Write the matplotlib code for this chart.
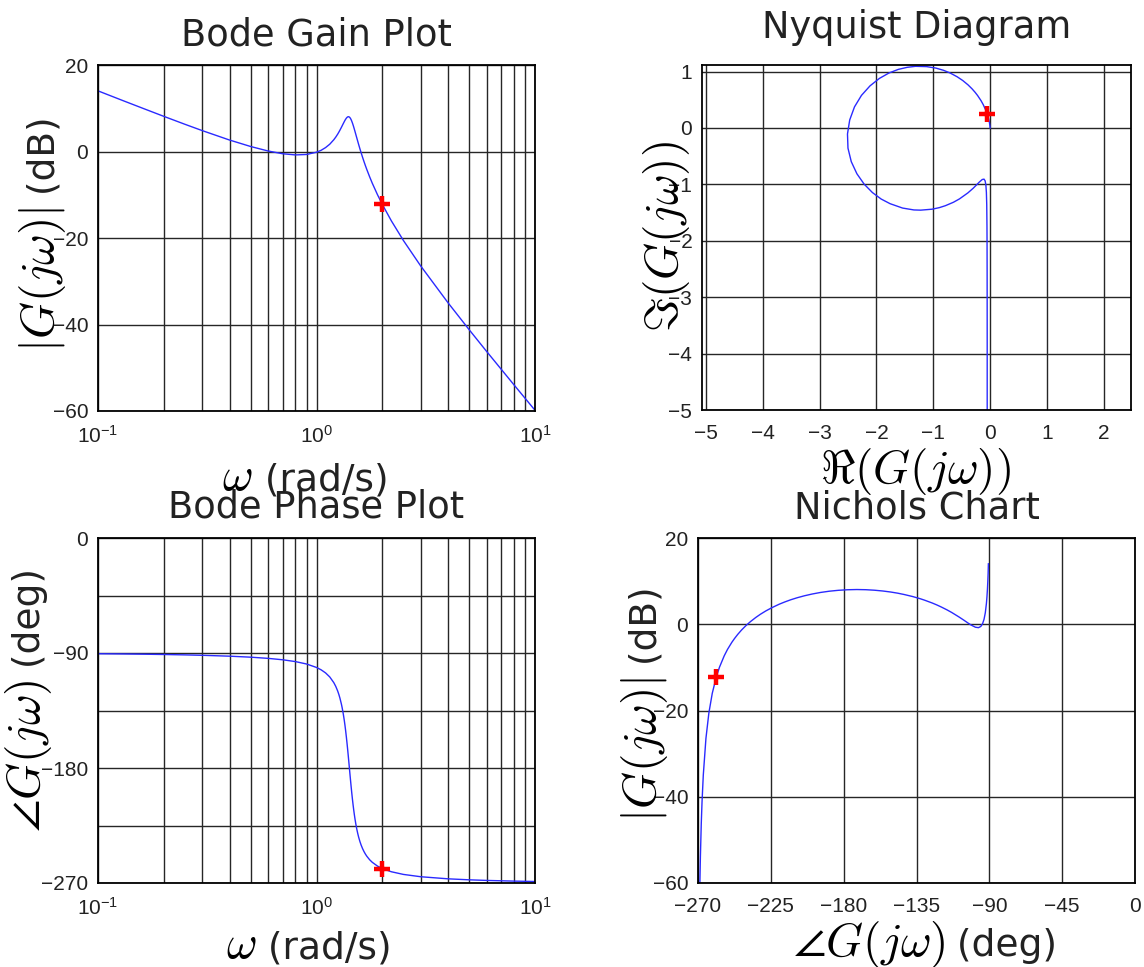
import numpy as np
import matplotlib
matplotlib.use("Agg")
import matplotlib.pyplot as plt
from matplotlib.ticker import FixedLocator, NullFormatter, LogLocator

# Frequency response (omega in rad/s)
omega = [0.1, 0.13, 0.16, 0.2, 0.25, 0.3, 0.4, 0.5, 0.6, 0.7,
         0.8, 0.9, 1.0, 1.05, 1.1, 1.15, 1.2, 1.225, 1.25, 1.265,
         1.28, 1.30, 1.31, 1.325, 1.34, 1.35, 1.36, 1.37, 1.38, 1.39,
         1.40, 1.41, 1.42, 1.43, 1.44, 1.45, 1.46, 1.47, 1.48, 1.49,
         1.5, 1.515, 1.53, 1.545, 1.56, 1.58, 1.6, 1.625, 1.65, 1.675,
         1.7, 1.75, 1.8, 1.9, 2.0, 2.2, 2.5, 3.0, 4.0, 5.0,
         6.0, 8.0, 10.0]
gain_db = [14.02, 11.77, 10.01, 8.13, 6.29, 4.83, 2.65, 1.15, 0.12, -0.52,
           -0.79, -0.69, -0.17, 0.28, 0.90, 1.69, 2.72, 3.33, 4.01, 4.46,
           4.93, 5.58, 5.92, 6.42, 6.90, 7.21, 7.48, 7.71, 7.89, 8.01,
           8.05, 8.00, 7.87, 7.66, 7.37, 7.01, 6.60, 6.15, 5.67, 5.16,
           4.65, 3.86, 3.09, 2.33, 1.58, 0.63, -0.27, -1.34, -2.35, -3.30,
           -4.19, -5.83, -7.33, -9.95, -12.21, -16.02, -20.59, -26.48, -34.98, -41.22,
           -46.20, -53.91, -59.83]
phase_deg = [-90.58, -90.75, -90.93, -91.17, -91.48, -91.80, -92.49, -93.27, -94.19, -95.30,
             -96.71, -98.60, -101.31, -103.17, -105.56, -108.75, -113.20, -116.13, -119.74, -122.33,
             -125.30, -129.99, -132.70, -137.32, -142.67, -146.68, -151.06, -155.81, -160.90, -166.27,
             -171.87, -177.58, -183.30, -188.92, -194.34, -199.47, -204.26, -208.69, -212.75, -216.45,
             -219.81, -224.26, -228.09, -231.39, -234.27, -237.52, -240.26, -243.10, -245.45, -247.42,
             -249.09, -251.77, -253.81, -256.72, -258.69, -261.19, -263.29, -265.10, -266.73, -267.51,
             -267.98, -268.52, -268.83]

# marked point (omega = 2 rad/s)
mark_omega = 2.0
mark_gain_db = -12.21
mark_phase_deg = -258.69

gain_ticks = [-60, -40, -20, 0, 20]
phase_ticks = [-270, -180, -90, 0]
phase_grid = [-225, -135, -45]
nyq_xticks = [-5, -4, -3, -2, -1, 0, 1, 2]
nyq_yticks = [-5, -4, -3, -2, -1, 0, 1]
nichols_xticks = [-270, -225, -180, -135, -90, -45, 0]

W, H = 1144, 967
plt.rcParams['font.family'] = 'DejaVu Sans'
plt.rcParams['mathtext.fontset'] = 'custom'
plt.rcParams['mathtext.rm'] = 'Liberation Sans'
plt.rcParams['mathtext.it'] = 'Liberation Sans:italic'
plt.rcParams['mathtext.bf'] = 'Liberation Sans:bold'

LINE = '#2a2aff'
GRID = '#262626'
TITLE_SIZE = 26.5
MATH_SIZE = 34
TEXT_SIZE = 27

fig = plt.figure(figsize=(W / 100, H / 100), dpi=100)


def box(l, t, r, b):
    return [l / W, 1 - b / H, (r - l) / W, (b - t) / H]


def style(ax):
    ax.grid(True, which='both', color=GRID, linewidth=1.0)
    ax.tick_params(which='both', length=0, labelsize=15,
                   labelfontfamily='Liberation Sans', labelcolor='#222222')
    ax.tick_params(axis='x', pad=10)
    ax.tick_params(axis='y', pad=7)
    for s in ax.spines.values():
        s.set_linewidth(1.3)


def label(x, y, math, text=None, rot=0):
    fx, fy = x / W, 1 - y / H
    if text is None:
        fig.text(fx, fy, math, fontsize=MATH_SIZE, math_fontfamily='cm',
                 ha='center', va='baseline', rotation=rot, rotation_mode='anchor')
        return
    fig.text(fx, fy, math, fontsize=MATH_SIZE, math_fontfamily='cm',
             ha='right', va='baseline', rotation=rot, rotation_mode='anchor')
    fig.text(fx, fy, ' ' + text, fontsize=TEXT_SIZE, color='#222222',
             ha='left', va='baseline', rotation=rot, rotation_mode='anchor')


mag = 10 ** (np.array(gain_db) / 20)
ph = np.deg2rad(phase_deg)
nyq_re = mag * np.cos(ph)
nyq_im = mag * np.sin(ph)
mark_mag = 10 ** (mark_gain_db / 20)
mark_re = mark_mag * np.cos(np.deg2rad(mark_phase_deg))
mark_im = mark_mag * np.sin(np.deg2rad(mark_phase_deg))

mk = dict(marker='+', color='red', markersize=11, markeredgewidth=3.2, zorder=5)

# Bode gain
ax1 = fig.add_axes(box(98, 65, 535, 411))
ax1.semilogx(omega, gain_db, color=LINE, lw=1.0)
ax1.plot([mark_omega], [mark_gain_db], **mk)
ax1.set_xlim(0.1, 10)
ax1.set_ylim(-60, 20)
ax1.set_yticks(gain_ticks)
ax1.xaxis.set_minor_locator(LogLocator(base=10, subs=np.arange(2, 10)))
ax1.xaxis.set_minor_formatter(NullFormatter())
style(ax1)
ax1.set_title('Bode Gain Plot', fontsize=TITLE_SIZE, pad=14.4, color='#222222')

# Nyquist
ax2 = fig.add_axes(box(702, 65, 1131, 410))
ax2.plot(nyq_re, nyq_im, color=LINE, lw=1.0)
ax2.plot([mark_re], [mark_im], **mk)
ax2.set_xlim(-5.07, 2.48)
ax2.set_ylim(-5, 1.117)
ax2.set_xticks(nyq_xticks)
ax2.set_yticks(nyq_yticks)
style(ax2)
ax2.set_title('Nyquist Diagram', fontsize=TITLE_SIZE, pad=19.4, color='#222222')

# Bode phase
ax3 = fig.add_axes(box(98, 538, 535, 883))
ax3.semilogx(omega, phase_deg, color=LINE, lw=1.0)
ax3.plot([mark_omega], [mark_phase_deg], **mk)
ax3.set_xlim(0.1, 10)
ax3.set_ylim(-270, 0)
ax3.set_yticks(phase_ticks)
ax3.yaxis.set_minor_locator(FixedLocator(phase_grid))
ax3.xaxis.set_minor_locator(LogLocator(base=10, subs=np.arange(2, 10)))
ax3.xaxis.set_minor_formatter(NullFormatter())
style(ax3)
ax3.set_title('Bode Phase Plot', fontsize=TITLE_SIZE, pad=14.4, color='#222222')

# Nichols
ax4 = fig.add_axes(box(698, 538, 1135, 883))
ax4.plot(phase_deg, gain_db, color=LINE, lw=1.0)
ax4.plot([mark_phase_deg], [mark_gain_db], **mk)
ax4.set_xlim(-270, 0)
ax4.set_ylim(-60, 20)
ax4.set_xticks(nichols_xticks)
ax4.set_yticks(gain_ticks)
style(ax4)
ax4.set_title('Nichols Chart', fontsize=TITLE_SIZE, pad=13.7, color='#222222')

# axis labels
label(253, 490, r'$\omega$', '(rad/s)')
label(256, 958, r'$\omega$', '(rad/s)')
label(945, 956, r'$\angle G(j\omega)$', '(deg)')
label(915, 483, r'$\Re(G(j\omega))$')
label(54, 207, r'$|G(j\omega)|$', '(dB)', rot=90)
label(40, 680, r'$\angle G(j\omega)$', '(deg)', rot=90)
label(656, 677, r'$|G(j\omega)|$', '(dB)', rot=90)
label(678, 237, r'$\Im(G(j\omega))$', rot=90)

fig.savefig('out.png', dpi=100)
